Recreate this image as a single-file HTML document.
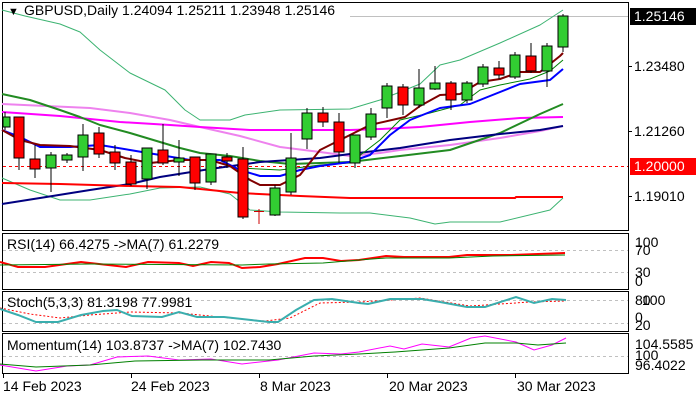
<!DOCTYPE html>
<html><head><meta charset="utf-8"><style>
body{margin:0;background:#fff;}
svg{display:block;font-family:"Liberation Sans",sans-serif;}
</style></head><body>
<svg width="700" height="400" viewBox="0 0 700 400" xmlns="http://www.w3.org/2000/svg">
<rect width="700" height="400" fill="#fff"/>
<g fill="none" stroke="#000" stroke-width="1">
<rect x="2.5" y="2.5" width="626" height="228"/>
<rect x="2.5" y="233.5" width="626" height="56"/>
<rect x="2.5" y="291.5" width="626" height="40"/>
<rect x="2.5" y="333.5" width="626" height="40"/>
</g>
<line x1="350" y1="16.5" x2="628" y2="16.5" stroke="#c0c0c0"/>
<line x1="3" y1="166.5" x2="628" y2="166.5" stroke="#f00" stroke-dasharray="3,3"/>
<g fill="none" stroke-linejoin="round">
<polyline stroke="#3cb371" stroke-width="1" points="2,10 25,16 60,24 80,32 100,50 130,73 165,90 185,110 200,120 230,120 245,115 280,110 350,109 380,100 420,84 440,65 460,60 500,43 540,25 563,10"/>
<polyline stroke="#3cb371" stroke-width="1" points="2,178 30,190 60,200 90,200 130,194 160,188 200,187 230,194 250,210 280,212 340,213 370,213 410,218 435,224 450,222 500,222 550,210 563,198"/>
<polyline stroke="#ee82ee" stroke-width="2" points="2,104 90,108 130,113 170,120 200,127 240,136 280,147 320,152 350,156 380,153 400,150 450,145 500,138 540,131 563,126"/>
<polyline stroke="#ff00ff" stroke-width="2" points="2,112 60,116 120,122 170,125 200,127 250,130 300,130 350,130 380,129 420,127 470,122 520,118 563,117"/>
<polyline stroke="#228b22" stroke-width="2" points="2,94 30,100 60,110 80,117 100,125 130,133 160,142 180,148 200,153 230,156 260,161 290,164 350,162 400,156 450,150 500,133 540,114 563,104"/>
<polyline stroke="#000080" stroke-width="2" points="2,204 40,198 90,190 130,184 160,177 210,169 260,162 320,158 350,154 400,148 450,140 500,134 540,130 563,126"/>
<polyline stroke="#ff0000" stroke-width="2" points="2,183 60,184 130,186 180,187 240,193 300,196 350,198 515,198 516,197 563,197"/>
<polyline stroke="#008000" stroke-width="1" points="240,168 280,170 320,165 350,163 380,140 400,120 430,113 460,105 480,90 500,85 530,79 550,71 563,60"/>
<polyline stroke="#0000ff" stroke-width="2" points="2,130 20,137 40,147 70,147 100,145 130,150 160,155 190,160 220,160 240,170 260,176 280,176 300,170 320,166 350,162 370,155 390,135 410,120 440,108 470,104 490,96 520,84 550,80 563,69"/>
<polyline stroke="#800000" stroke-width="2" points="2,130 20,140 40,145 70,146 100,150 125,158 150,163 180,160 210,160 230,166 250,180 260,185 280,185 300,175 320,150 340,140 370,125 405,117 420,106 440,95 460,94 480,82 500,79 520,72 540,72 560,56 563,53"/>
</g>
<g font-size="14" fill="#000">
<text x="8" y="15" font-size="11">▼</text>
<text x="24" y="15">GBPUSD,Daily  1.24094 1.25211 1.23948 1.25146</text>
</g>
<g stroke="#000"><line x1="628" y1="66.5" x2="632" y2="66.5"/><line x1="628" y1="131.5" x2="632" y2="131.5"/><line x1="628" y1="196.5" x2="632" y2="196.5"/></g>
<rect x="630" y="8" width="66" height="17" fill="#000"/>
<rect x="630" y="158" width="66" height="17" fill="#f00"/>
<g font-size="14">
<text x="634" y="21" fill="#fff">1.25146</text>
<text x="634" y="71" fill="#000">1.23480</text>
<text x="634" y="136" fill="#000">1.21260</text>
<text x="634" y="171" fill="#fff">1.20000</text>
<text x="634" y="201" fill="#000">1.19010</text>
</g>
<g stroke="#c0c0c0" stroke-dasharray="3,3"><line x1="3" y1="250.5" x2="628" y2="250.5"/><line x1="3" y1="272.5" x2="628" y2="272.5"/>
<line x1="3" y1="300.5" x2="628" y2="300.5"/><line x1="3" y1="323.5" x2="628" y2="323.5"/><line x1="3" y1="356.5" x2="628" y2="356.5"/></g>
<polyline fill="none" stroke="#f00" stroke-width="2" points="0,262 18,267 45,267 81,262 126,267 148,262 179,263 193,266 211,262 229,263 242,268 260,267 278,264 305,258 323,258 341,261 359,260 386,256 404,257 449,257 467,255 511,255 538,254 565,253"/>
<polyline fill="none" stroke="#008000" stroke-width="1" points="0,265 90,264 242,265 269,264 323,263 359,260 386,258 449,258 493,256 565,255"/>
<polyline fill="none" stroke="#f00" stroke-width="1" stroke-dasharray="2,2" points="0,308 30,314 60,318 90,315 130,312 180,313 230,318 265,321 290,318 320,303 360,302 420,298 470,306 500,304 530,302 566,301"/>
<polyline fill="none" stroke="#3aaeae" stroke-width="2" points="0,309 18,315 36,322 58,322 81,315 103,311 117,310 132,316 162,317 179,312 197,317 224,317 251,320 269,322 278,322 296,310 314,300 332,299 359,303 368,304 390,299 422,299 440,302 467,307 485,307 516,297 534,303 552,299 566,300"/>
<polyline fill="none" stroke="#ff00ff" stroke-width="1" points="0,365 36,371 67,366 90,365 117,357 148,356 179,360 211,359 242,364 278,360 314,353 341,354 359,352 390,346 404,349 422,344 449,347 471,338 485,336 516,342 534,350 552,345 566,338"/>
<polyline fill="none" stroke="#008000" stroke-width="1" points="0,364 36,367 90,365 135,361 202,360 269,360 314,356 359,354 395,352 449,348 485,343 516,343 538,345 566,343"/>
<g font-size="14" fill="#000">
<text x="7" y="249">RSI(14) 66.4275  -&gt;MA(7) 61.2279</text>
<text x="7" y="307">Stoch(5,3,3) 81.3198 77.9981</text>
<text x="7" y="350">Momentum(14) 103.8737  -&gt;MA(7) 102.7430</text>
<text x="635" y="247">100</text><text x="635" y="255">70</text><text x="635" y="277">30</text><text x="635" y="286">0</text>
<text x="635" y="305">80</text><text x="642" y="305">100</text><text x="635" y="322">0</text><text x="635" y="330">20</text>
<text x="635" y="349">104.5585</text><text x="635" y="360">100</text><text x="635" y="370">96.4022</text>
<text x="3" y="391">14 Feb 2023</text><text x="131" y="391">24 Feb 2023</text><text x="260" y="391">8 Mar 2023</text><text x="389" y="391">20 Mar 2023</text><text x="517" y="391">30 Mar 2023</text>
</g>
<g stroke="#000"><line x1="3.5" y1="374" x2="3.5" y2="378"/><line x1="131.5" y1="374" x2="131.5" y2="378"/><line x1="259.5" y1="374" x2="259.5" y2="378"/><line x1="387.5" y1="374" x2="387.5" y2="378"/><line x1="515.5" y1="374" x2="515.5" y2="378"/></g>
<g stroke="#000" stroke-width="1">
<line x1="5" y1="112" x2="5" y2="130"/><rect x="3" y="117" width="7" height="10" fill="#32cd32"/>
<line x1="19" y1="117" x2="19" y2="170"/><rect x="14" y="117" width="10" height="41" fill="#f00"/>
<line x1="35" y1="145" x2="35" y2="178"/><rect x="30" y="159" width="10" height="10" fill="#f00"/>
<line x1="51" y1="152" x2="51" y2="192"/><rect x="46" y="155" width="10" height="13" fill="#32cd32"/>
<line x1="67" y1="153" x2="67" y2="163"/><rect x="62" y="155" width="10" height="5" fill="#32cd32"/>
<line x1="83" y1="124" x2="83" y2="171"/><rect x="78" y="135" width="10" height="22" fill="#32cd32"/>
<line x1="99" y1="127" x2="99" y2="158"/><rect x="94" y="133" width="10" height="21" fill="#f00"/>
<line x1="115" y1="145" x2="115" y2="170"/><rect x="110" y="152" width="10" height="11" fill="#f00"/>
<line x1="131" y1="155" x2="131" y2="186"/><rect x="126" y="162" width="10" height="22" fill="#f00"/>
<line x1="147" y1="148" x2="147" y2="189"/><rect x="142" y="148" width="10" height="31" fill="#32cd32"/>
<line x1="163" y1="124" x2="163" y2="165"/><rect x="158" y="150" width="10" height="13" fill="#f00"/>
<line x1="179" y1="140" x2="179" y2="176"/><rect x="174" y="158" width="10" height="4" fill="#32cd32"/>
<line x1="195" y1="157" x2="195" y2="190"/><rect x="190" y="157" width="10" height="26" fill="#f00"/>
<line x1="211" y1="154" x2="211" y2="185"/><rect x="206" y="154" width="10" height="28" fill="#32cd32"/>
<line x1="227" y1="153" x2="227" y2="168"/><rect x="222" y="157" width="10" height="4" fill="#f00"/>
<line x1="243" y1="147" x2="243" y2="219"/><rect x="238" y="159" width="10" height="58" fill="#f00"/>
<line x1="259" y1="209" x2="259" y2="224" stroke="#c00"/><line x1="254" y1="211.5" x2="264" y2="211.5" stroke="#c00"/>
<line x1="275" y1="185" x2="275" y2="216"/><rect x="270" y="188" width="10" height="27" fill="#32cd32"/>
<line x1="291" y1="133" x2="291" y2="195"/><rect x="286" y="158" width="10" height="34" fill="#32cd32"/>
<line x1="307" y1="108" x2="307" y2="149"/><rect x="302" y="113" width="10" height="26" fill="#32cd32"/>
<line x1="323" y1="107" x2="323" y2="127"/><rect x="318" y="113" width="10" height="9" fill="#f00"/>
<line x1="339" y1="113" x2="339" y2="163"/><rect x="334" y="122" width="10" height="30" fill="#f00"/>
<line x1="355" y1="135" x2="355" y2="168"/><rect x="350" y="135" width="10" height="28" fill="#32cd32"/>
<line x1="371" y1="108" x2="371" y2="140"/><rect x="366" y="114" width="10" height="23" fill="#32cd32"/>
<line x1="387" y1="83" x2="387" y2="118"/><rect x="382" y="86" width="10" height="22" fill="#32cd32"/>
<line x1="403" y1="84" x2="403" y2="115"/><rect x="398" y="87" width="10" height="18" fill="#f00"/>
<line x1="419" y1="69" x2="419" y2="108"/><rect x="414" y="88" width="10" height="17" fill="#32cd32"/>
<line x1="435" y1="66" x2="435" y2="90"/><rect x="430" y="83" width="10" height="6" fill="#32cd32"/>
<line x1="451" y1="81" x2="451" y2="110"/><rect x="446" y="83" width="10" height="17" fill="#f00"/>
<line x1="467" y1="81" x2="467" y2="103"/><rect x="462" y="83" width="10" height="17" fill="#32cd32"/>
<line x1="483" y1="64" x2="483" y2="87"/><rect x="478" y="67" width="10" height="17" fill="#32cd32"/>
<line x1="499" y1="61" x2="499" y2="79"/><rect x="494" y="68" width="10" height="7" fill="#f00"/>
<line x1="515" y1="52" x2="515" y2="79"/><rect x="510" y="55" width="10" height="22" fill="#32cd32"/>
<line x1="531" y1="43" x2="531" y2="73"/><rect x="526" y="56" width="10" height="15" fill="#f00"/>
<line x1="547" y1="43" x2="547" y2="87"/><rect x="542" y="46" width="10" height="25" fill="#32cd32"/>
<line x1="563" y1="14" x2="563" y2="52"/><rect x="558" y="16" width="10" height="31" fill="#32cd32"/>
</g>
</svg>
</body></html>
